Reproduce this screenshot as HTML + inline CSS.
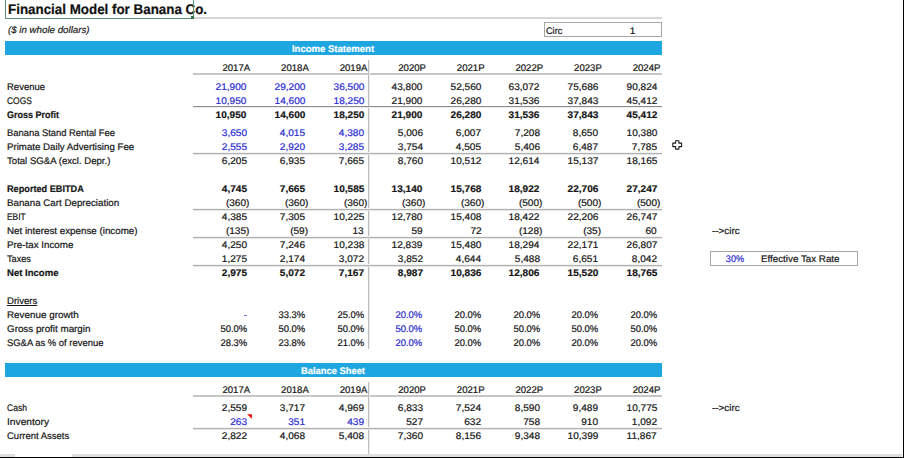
<!DOCTYPE html>
<html><head><meta charset="utf-8"><title>Financial Model for Banana Co.</title>
<style>
html,body{margin:0;padding:0;background:#fff;}
body{width:904px;height:458px;position:relative;overflow:hidden;font-family:"Liberation Sans", sans-serif;}
.t{position:absolute;white-space:pre;text-rendering:geometricPrecision;-webkit-text-stroke:0.2px currentColor;}
.b{-webkit-text-stroke:0.2px currentColor;}
.l{position:absolute;box-sizing:content-box;}
</style></head><body>
<div class="t b" style="top:1.90px;height:14px;line-height:14px;font-size:14px;font-weight:700;color:#111;left:7.50px;transform:scaleX(0.955);transform-origin:left center;">Financial Model for Banana Co.</div>
<div class="l" style="top:17px;left:193.00px;width:468.60px;height:2px;background:#d6d6d6;"></div>
<div class="l" style="top:-1px;left:5px;width:187px;height:19px;border:1px solid #5a9272;border-top:none"></div>
<div class="l" style="top:16px;left:190.8px;width:3px;height:3px;background:#2e7048"></div>
<div class="t" style="top:24.30px;height:14px;line-height:14px;font-size:9.6px;font-weight:400;color:#222;font-style:italic;left:7.70px;transform:scaleX(1.0125381097560977);transform-origin:left center;">($ in whole dollars)</div>
<div class="l" style="top:22px;left:544px;width:116px;height:13px;border:1px solid #a6a6a6"></div>
<div class="t" style="top:24.50px;height:14px;line-height:14px;font-size:9.6px;font-weight:400;color:#161616;left:546.30px;transform:scaleX(0.9529411764705882);transform-origin:left center;">Circ</div>
<div class="t" style="top:24.50px;height:14px;line-height:14px;font-size:9.6px;font-weight:400;color:#161616;right:268.60px;transform:scaleX(1.05);transform-origin:right center;">1</div>
<div class="l" style="top:41px;left:5px;width:656.6px;height:14px;background:#1da6df"></div>
<div class="t b" style="top:42.50px;height:14px;line-height:14px;font-size:9.6px;font-weight:700;color:#ffffff;left:183.30px;width:300px;text-align:center;transform:scaleX(0.9942592592592592);transform-origin:center center;">Income Statement</div>
<div class="t" style="top:61.80px;height:14px;line-height:14px;font-size:9.6px;font-weight:400;color:#161616;right:653.80px;">2017A</div>
<div class="t" style="top:61.80px;height:14px;line-height:14px;font-size:9.6px;font-weight:400;color:#161616;right:595.20px;">2018A</div>
<div class="t" style="top:61.80px;height:14px;line-height:14px;font-size:9.6px;font-weight:400;color:#161616;right:536.60px;">2019A</div>
<div class="t" style="top:61.80px;height:14px;line-height:14px;font-size:9.6px;font-weight:400;color:#161616;right:478.00px;">2020P</div>
<div class="t" style="top:61.80px;height:14px;line-height:14px;font-size:9.6px;font-weight:400;color:#161616;right:419.40px;">2021P</div>
<div class="t" style="top:61.80px;height:14px;line-height:14px;font-size:9.6px;font-weight:400;color:#161616;right:360.80px;">2022P</div>
<div class="t" style="top:61.80px;height:14px;line-height:14px;font-size:9.6px;font-weight:400;color:#161616;right:302.20px;">2023P</div>
<div class="t" style="top:61.80px;height:14px;line-height:14px;font-size:9.6px;font-weight:400;color:#161616;right:243.60px;">2024P</div>
<div class="l" style="top:73px;left:192.80px;width:468.80px;height:2px;background:#c6c6c6;"></div>
<div class="l" style="top:60px;left:368px;width:1px;height:289px;background:#bcbcbc;box-shadow:1px 0 0 #f0f0f0;"></div>
<div class="t" style="top:80.80px;height:14px;line-height:14px;font-size:9.6px;font-weight:400;color:#161616;left:7.20px;transform:scaleX(0.9895629833129832);transform-origin:left center;">Revenue</div>
<div class="t" style="top:80.80px;height:14px;line-height:14px;font-size:9.6px;font-weight:400;color:#2b2bd0;right:657.20px;transform:scaleX(1.05);transform-origin:right center;">21,900</div>
<div class="t" style="top:80.80px;height:14px;line-height:14px;font-size:9.6px;font-weight:400;color:#2b2bd0;right:598.60px;transform:scaleX(1.05);transform-origin:right center;">29,200</div>
<div class="t" style="top:80.80px;height:14px;line-height:14px;font-size:9.6px;font-weight:400;color:#2b2bd0;right:540.00px;transform:scaleX(1.05);transform-origin:right center;">36,500</div>
<div class="t" style="top:80.80px;height:14px;line-height:14px;font-size:9.6px;font-weight:400;color:#161616;right:481.40px;transform:scaleX(1.05);transform-origin:right center;">43,800</div>
<div class="t" style="top:80.80px;height:14px;line-height:14px;font-size:9.6px;font-weight:400;color:#161616;right:422.80px;transform:scaleX(1.05);transform-origin:right center;">52,560</div>
<div class="t" style="top:80.80px;height:14px;line-height:14px;font-size:9.6px;font-weight:400;color:#161616;right:364.20px;transform:scaleX(1.05);transform-origin:right center;">63,072</div>
<div class="t" style="top:80.80px;height:14px;line-height:14px;font-size:9.6px;font-weight:400;color:#161616;right:305.60px;transform:scaleX(1.05);transform-origin:right center;">75,686</div>
<div class="t" style="top:80.80px;height:14px;line-height:14px;font-size:9.6px;font-weight:400;color:#161616;right:247.00px;transform:scaleX(1.05);transform-origin:right center;">90,824</div>
<div class="t" style="top:94.80px;height:14px;line-height:14px;font-size:9.6px;font-weight:400;color:#161616;left:7.20px;transform:scaleX(0.8780209895052474);transform-origin:left center;">COGS</div>
<div class="t" style="top:94.80px;height:14px;line-height:14px;font-size:9.6px;font-weight:400;color:#2b2bd0;right:657.20px;transform:scaleX(1.05);transform-origin:right center;">10,950</div>
<div class="t" style="top:94.80px;height:14px;line-height:14px;font-size:9.6px;font-weight:400;color:#2b2bd0;right:598.60px;transform:scaleX(1.05);transform-origin:right center;">14,600</div>
<div class="t" style="top:94.80px;height:14px;line-height:14px;font-size:9.6px;font-weight:400;color:#2b2bd0;right:540.00px;transform:scaleX(1.05);transform-origin:right center;">18,250</div>
<div class="t" style="top:94.80px;height:14px;line-height:14px;font-size:9.6px;font-weight:400;color:#161616;right:481.40px;transform:scaleX(1.05);transform-origin:right center;">21,900</div>
<div class="t" style="top:94.80px;height:14px;line-height:14px;font-size:9.6px;font-weight:400;color:#161616;right:422.80px;transform:scaleX(1.05);transform-origin:right center;">26,280</div>
<div class="t" style="top:94.80px;height:14px;line-height:14px;font-size:9.6px;font-weight:400;color:#161616;right:364.20px;transform:scaleX(1.05);transform-origin:right center;">31,536</div>
<div class="t" style="top:94.80px;height:14px;line-height:14px;font-size:9.6px;font-weight:400;color:#161616;right:305.60px;transform:scaleX(1.05);transform-origin:right center;">37,843</div>
<div class="t" style="top:94.80px;height:14px;line-height:14px;font-size:9.6px;font-weight:400;color:#161616;right:247.00px;transform:scaleX(1.05);transform-origin:right center;">45,412</div>
<div class="l" style="top:106px;left:192.80px;width:468.80px;height:1px;background:#8c8c8c;box-shadow:0 1px 0 #ececec;"></div>
<div class="t b" style="top:108.80px;height:14px;line-height:14px;font-size:9.6px;font-weight:700;color:#161616;left:7.20px;transform:scaleX(0.9388503386795389);transform-origin:left center;">Gross Profit</div>
<div class="t b" style="top:108.80px;height:14px;line-height:14px;font-size:9.6px;font-weight:700;color:#161616;right:657.20px;transform:scaleX(1.05);transform-origin:right center;">10,950</div>
<div class="t b" style="top:108.80px;height:14px;line-height:14px;font-size:9.6px;font-weight:700;color:#161616;right:598.60px;transform:scaleX(1.05);transform-origin:right center;">14,600</div>
<div class="t b" style="top:108.80px;height:14px;line-height:14px;font-size:9.6px;font-weight:700;color:#161616;right:540.00px;transform:scaleX(1.05);transform-origin:right center;">18,250</div>
<div class="t b" style="top:108.80px;height:14px;line-height:14px;font-size:9.6px;font-weight:700;color:#161616;right:481.40px;transform:scaleX(1.05);transform-origin:right center;">21,900</div>
<div class="t b" style="top:108.80px;height:14px;line-height:14px;font-size:9.6px;font-weight:700;color:#161616;right:422.80px;transform:scaleX(1.05);transform-origin:right center;">26,280</div>
<div class="t b" style="top:108.80px;height:14px;line-height:14px;font-size:9.6px;font-weight:700;color:#161616;right:364.20px;transform:scaleX(1.05);transform-origin:right center;">31,536</div>
<div class="t b" style="top:108.80px;height:14px;line-height:14px;font-size:9.6px;font-weight:700;color:#161616;right:305.60px;transform:scaleX(1.05);transform-origin:right center;">37,843</div>
<div class="t b" style="top:108.80px;height:14px;line-height:14px;font-size:9.6px;font-weight:700;color:#161616;right:247.00px;transform:scaleX(1.05);transform-origin:right center;">45,412</div>
<div class="t" style="top:127.30px;height:14px;line-height:14px;font-size:9.6px;font-weight:400;color:#161616;left:7.20px;transform:scaleX(0.9778150478598517);transform-origin:left center;">Banana Stand Rental Fee</div>
<div class="t" style="top:127.30px;height:14px;line-height:14px;font-size:9.6px;font-weight:400;color:#2b2bd0;right:657.20px;transform:scaleX(1.05);transform-origin:right center;">3,650</div>
<div class="t" style="top:127.30px;height:14px;line-height:14px;font-size:9.6px;font-weight:400;color:#2b2bd0;right:598.60px;transform:scaleX(1.05);transform-origin:right center;">4,015</div>
<div class="t" style="top:127.30px;height:14px;line-height:14px;font-size:9.6px;font-weight:400;color:#2b2bd0;right:540.00px;transform:scaleX(1.05);transform-origin:right center;">4,380</div>
<div class="t" style="top:127.30px;height:14px;line-height:14px;font-size:9.6px;font-weight:400;color:#161616;right:481.40px;transform:scaleX(1.05);transform-origin:right center;">5,006</div>
<div class="t" style="top:127.30px;height:14px;line-height:14px;font-size:9.6px;font-weight:400;color:#161616;right:422.80px;transform:scaleX(1.05);transform-origin:right center;">6,007</div>
<div class="t" style="top:127.30px;height:14px;line-height:14px;font-size:9.6px;font-weight:400;color:#161616;right:364.20px;transform:scaleX(1.05);transform-origin:right center;">7,208</div>
<div class="t" style="top:127.30px;height:14px;line-height:14px;font-size:9.6px;font-weight:400;color:#161616;right:305.60px;transform:scaleX(1.05);transform-origin:right center;">8,650</div>
<div class="t" style="top:127.30px;height:14px;line-height:14px;font-size:9.6px;font-weight:400;color:#161616;right:247.00px;transform:scaleX(1.05);transform-origin:right center;">10,380</div>
<div class="t" style="top:141.30px;height:14px;line-height:14px;font-size:9.6px;font-weight:400;color:#161616;left:7.20px;transform:scaleX(1.010656542842742);transform-origin:left center;">Primate Daily Advertising Fee</div>
<div class="t" style="top:141.30px;height:14px;line-height:14px;font-size:9.6px;font-weight:400;color:#2b2bd0;right:657.20px;transform:scaleX(1.05);transform-origin:right center;">2,555</div>
<div class="t" style="top:141.30px;height:14px;line-height:14px;font-size:9.6px;font-weight:400;color:#2b2bd0;right:598.60px;transform:scaleX(1.05);transform-origin:right center;">2,920</div>
<div class="t" style="top:141.30px;height:14px;line-height:14px;font-size:9.6px;font-weight:400;color:#2b2bd0;right:540.00px;transform:scaleX(1.05);transform-origin:right center;">3,285</div>
<div class="t" style="top:141.30px;height:14px;line-height:14px;font-size:9.6px;font-weight:400;color:#161616;right:481.40px;transform:scaleX(1.05);transform-origin:right center;">3,754</div>
<div class="t" style="top:141.30px;height:14px;line-height:14px;font-size:9.6px;font-weight:400;color:#161616;right:422.80px;transform:scaleX(1.05);transform-origin:right center;">4,505</div>
<div class="t" style="top:141.30px;height:14px;line-height:14px;font-size:9.6px;font-weight:400;color:#161616;right:364.20px;transform:scaleX(1.05);transform-origin:right center;">5,406</div>
<div class="t" style="top:141.30px;height:14px;line-height:14px;font-size:9.6px;font-weight:400;color:#161616;right:305.60px;transform:scaleX(1.05);transform-origin:right center;">6,487</div>
<div class="t" style="top:141.30px;height:14px;line-height:14px;font-size:9.6px;font-weight:400;color:#161616;right:247.00px;transform:scaleX(1.05);transform-origin:right center;">7,785</div>
<div class="l" style="top:153px;left:192.80px;width:468.80px;height:1px;background:#b2b2b2;box-shadow:0 1px 0 #e6e6e6, 0 -1px 0 #f4f4f4;"></div>
<div class="t" style="top:155.40px;height:14px;line-height:14px;font-size:9.6px;font-weight:400;color:#161616;left:7.20px;transform:scaleX(0.9994405188046276);transform-origin:left center;">Total SG&amp;A (excl. Depr.)</div>
<div class="t" style="top:155.40px;height:14px;line-height:14px;font-size:9.6px;font-weight:400;color:#161616;right:657.20px;transform:scaleX(1.05);transform-origin:right center;">6,205</div>
<div class="t" style="top:155.40px;height:14px;line-height:14px;font-size:9.6px;font-weight:400;color:#161616;right:598.60px;transform:scaleX(1.05);transform-origin:right center;">6,935</div>
<div class="t" style="top:155.40px;height:14px;line-height:14px;font-size:9.6px;font-weight:400;color:#161616;right:540.00px;transform:scaleX(1.05);transform-origin:right center;">7,665</div>
<div class="t" style="top:155.40px;height:14px;line-height:14px;font-size:9.6px;font-weight:400;color:#161616;right:481.40px;transform:scaleX(1.05);transform-origin:right center;">8,760</div>
<div class="t" style="top:155.40px;height:14px;line-height:14px;font-size:9.6px;font-weight:400;color:#161616;right:422.80px;transform:scaleX(1.05);transform-origin:right center;">10,512</div>
<div class="t" style="top:155.40px;height:14px;line-height:14px;font-size:9.6px;font-weight:400;color:#161616;right:364.20px;transform:scaleX(1.05);transform-origin:right center;">12,614</div>
<div class="t" style="top:155.40px;height:14px;line-height:14px;font-size:9.6px;font-weight:400;color:#161616;right:305.60px;transform:scaleX(1.05);transform-origin:right center;">15,137</div>
<div class="t" style="top:155.40px;height:14px;line-height:14px;font-size:9.6px;font-weight:400;color:#161616;right:247.00px;transform:scaleX(1.05);transform-origin:right center;">18,165</div>
<div class="t b" style="top:183.40px;height:14px;line-height:14px;font-size:9.6px;font-weight:700;color:#161616;left:7.20px;transform:scaleX(0.9540895378690629);transform-origin:left center;">Reported EBITDA</div>
<div class="t b" style="top:183.40px;height:14px;line-height:14px;font-size:9.6px;font-weight:700;color:#161616;right:657.20px;transform:scaleX(1.05);transform-origin:right center;">4,745</div>
<div class="t b" style="top:183.40px;height:14px;line-height:14px;font-size:9.6px;font-weight:700;color:#161616;right:598.60px;transform:scaleX(1.05);transform-origin:right center;">7,665</div>
<div class="t b" style="top:183.40px;height:14px;line-height:14px;font-size:9.6px;font-weight:700;color:#161616;right:540.00px;transform:scaleX(1.05);transform-origin:right center;">10,585</div>
<div class="t b" style="top:183.40px;height:14px;line-height:14px;font-size:9.6px;font-weight:700;color:#161616;right:481.40px;transform:scaleX(1.05);transform-origin:right center;">13,140</div>
<div class="t b" style="top:183.40px;height:14px;line-height:14px;font-size:9.6px;font-weight:700;color:#161616;right:422.80px;transform:scaleX(1.05);transform-origin:right center;">15,768</div>
<div class="t b" style="top:183.40px;height:14px;line-height:14px;font-size:9.6px;font-weight:700;color:#161616;right:364.20px;transform:scaleX(1.05);transform-origin:right center;">18,922</div>
<div class="t b" style="top:183.40px;height:14px;line-height:14px;font-size:9.6px;font-weight:700;color:#161616;right:305.60px;transform:scaleX(1.05);transform-origin:right center;">22,706</div>
<div class="t b" style="top:183.40px;height:14px;line-height:14px;font-size:9.6px;font-weight:700;color:#161616;right:247.00px;transform:scaleX(1.05);transform-origin:right center;">27,247</div>
<div class="t" style="top:197.40px;height:14px;line-height:14px;font-size:9.6px;font-weight:400;color:#161616;left:7.20px;transform:scaleX(1.0158690137987012);transform-origin:left center;">Banana Cart Depreciation</div>
<div class="t" style="top:197.40px;height:14px;line-height:14px;font-size:9.6px;font-weight:400;color:#161616;right:654.20px;transform:scaleX(1.05);transform-origin:right center;">(360)</div>
<div class="t" style="top:197.40px;height:14px;line-height:14px;font-size:9.6px;font-weight:400;color:#161616;right:595.60px;transform:scaleX(1.05);transform-origin:right center;">(360)</div>
<div class="t" style="top:197.40px;height:14px;line-height:14px;font-size:9.6px;font-weight:400;color:#161616;right:537.00px;transform:scaleX(1.05);transform-origin:right center;">(360)</div>
<div class="t" style="top:197.40px;height:14px;line-height:14px;font-size:9.6px;font-weight:400;color:#161616;right:478.40px;transform:scaleX(1.05);transform-origin:right center;">(360)</div>
<div class="t" style="top:197.40px;height:14px;line-height:14px;font-size:9.6px;font-weight:400;color:#161616;right:419.80px;transform:scaleX(1.05);transform-origin:right center;">(360)</div>
<div class="t" style="top:197.40px;height:14px;line-height:14px;font-size:9.6px;font-weight:400;color:#161616;right:361.20px;transform:scaleX(1.05);transform-origin:right center;">(500)</div>
<div class="t" style="top:197.40px;height:14px;line-height:14px;font-size:9.6px;font-weight:400;color:#161616;right:302.60px;transform:scaleX(1.05);transform-origin:right center;">(500)</div>
<div class="t" style="top:197.40px;height:14px;line-height:14px;font-size:9.6px;font-weight:400;color:#161616;right:244.00px;transform:scaleX(1.05);transform-origin:right center;">(500)</div>
<div class="l" style="top:209px;left:192.80px;width:468.80px;height:1px;background:#b2b2b2;box-shadow:0 1px 0 #e6e6e6, 0 -1px 0 #f4f4f4;"></div>
<div class="t" style="top:211.40px;height:14px;line-height:14px;font-size:9.6px;font-weight:400;color:#161616;left:7.20px;transform:scaleX(0.871096108140226);transform-origin:left center;">EBIT</div>
<div class="t" style="top:211.40px;height:14px;line-height:14px;font-size:9.6px;font-weight:400;color:#161616;right:657.20px;transform:scaleX(1.05);transform-origin:right center;">4,385</div>
<div class="t" style="top:211.40px;height:14px;line-height:14px;font-size:9.6px;font-weight:400;color:#161616;right:598.60px;transform:scaleX(1.05);transform-origin:right center;">7,305</div>
<div class="t" style="top:211.40px;height:14px;line-height:14px;font-size:9.6px;font-weight:400;color:#161616;right:540.00px;transform:scaleX(1.05);transform-origin:right center;">10,225</div>
<div class="t" style="top:211.40px;height:14px;line-height:14px;font-size:9.6px;font-weight:400;color:#161616;right:481.40px;transform:scaleX(1.05);transform-origin:right center;">12,780</div>
<div class="t" style="top:211.40px;height:14px;line-height:14px;font-size:9.6px;font-weight:400;color:#161616;right:422.80px;transform:scaleX(1.05);transform-origin:right center;">15,408</div>
<div class="t" style="top:211.40px;height:14px;line-height:14px;font-size:9.6px;font-weight:400;color:#161616;right:364.20px;transform:scaleX(1.05);transform-origin:right center;">18,422</div>
<div class="t" style="top:211.40px;height:14px;line-height:14px;font-size:9.6px;font-weight:400;color:#161616;right:305.60px;transform:scaleX(1.05);transform-origin:right center;">22,206</div>
<div class="t" style="top:211.40px;height:14px;line-height:14px;font-size:9.6px;font-weight:400;color:#161616;right:247.00px;transform:scaleX(1.05);transform-origin:right center;">26,747</div>
<div class="t" style="top:225.40px;height:14px;line-height:14px;font-size:9.6px;font-weight:400;color:#161616;left:7.20px;transform:scaleX(1.0199855057441232);transform-origin:left center;">Net interest expense (income)</div>
<div class="t" style="top:225.40px;height:14px;line-height:14px;font-size:9.6px;font-weight:400;color:#161616;right:654.20px;transform:scaleX(1.05);transform-origin:right center;">(135)</div>
<div class="t" style="top:225.40px;height:14px;line-height:14px;font-size:9.6px;font-weight:400;color:#161616;right:595.60px;transform:scaleX(1.05);transform-origin:right center;">(59)</div>
<div class="t" style="top:225.40px;height:14px;line-height:14px;font-size:9.6px;font-weight:400;color:#161616;right:540.00px;transform:scaleX(1.05);transform-origin:right center;">13</div>
<div class="t" style="top:225.40px;height:14px;line-height:14px;font-size:9.6px;font-weight:400;color:#161616;right:481.40px;transform:scaleX(1.05);transform-origin:right center;">59</div>
<div class="t" style="top:225.40px;height:14px;line-height:14px;font-size:9.6px;font-weight:400;color:#161616;right:422.80px;transform:scaleX(1.05);transform-origin:right center;">72</div>
<div class="t" style="top:225.40px;height:14px;line-height:14px;font-size:9.6px;font-weight:400;color:#161616;right:361.20px;transform:scaleX(1.05);transform-origin:right center;">(128)</div>
<div class="t" style="top:225.40px;height:14px;line-height:14px;font-size:9.6px;font-weight:400;color:#161616;right:302.60px;transform:scaleX(1.05);transform-origin:right center;">(35)</div>
<div class="t" style="top:225.40px;height:14px;line-height:14px;font-size:9.6px;font-weight:400;color:#161616;right:247.00px;transform:scaleX(1.05);transform-origin:right center;">60</div>
<div class="l" style="top:237px;left:192.80px;width:468.80px;height:1px;background:#b2b2b2;box-shadow:0 1px 0 #e6e6e6, 0 -1px 0 #f4f4f4;"></div>
<div class="t" style="top:239.40px;height:14px;line-height:14px;font-size:9.6px;font-weight:400;color:#161616;left:7.20px;transform:scaleX(1.020371958770396);transform-origin:left center;">Pre-tax Income</div>
<div class="t" style="top:239.40px;height:14px;line-height:14px;font-size:9.6px;font-weight:400;color:#161616;right:657.20px;transform:scaleX(1.05);transform-origin:right center;">4,250</div>
<div class="t" style="top:239.40px;height:14px;line-height:14px;font-size:9.6px;font-weight:400;color:#161616;right:598.60px;transform:scaleX(1.05);transform-origin:right center;">7,246</div>
<div class="t" style="top:239.40px;height:14px;line-height:14px;font-size:9.6px;font-weight:400;color:#161616;right:540.00px;transform:scaleX(1.05);transform-origin:right center;">10,238</div>
<div class="t" style="top:239.40px;height:14px;line-height:14px;font-size:9.6px;font-weight:400;color:#161616;right:481.40px;transform:scaleX(1.05);transform-origin:right center;">12,839</div>
<div class="t" style="top:239.40px;height:14px;line-height:14px;font-size:9.6px;font-weight:400;color:#161616;right:422.80px;transform:scaleX(1.05);transform-origin:right center;">15,480</div>
<div class="t" style="top:239.40px;height:14px;line-height:14px;font-size:9.6px;font-weight:400;color:#161616;right:364.20px;transform:scaleX(1.05);transform-origin:right center;">18,294</div>
<div class="t" style="top:239.40px;height:14px;line-height:14px;font-size:9.6px;font-weight:400;color:#161616;right:305.60px;transform:scaleX(1.05);transform-origin:right center;">22,171</div>
<div class="t" style="top:239.40px;height:14px;line-height:14px;font-size:9.6px;font-weight:400;color:#161616;right:247.00px;transform:scaleX(1.05);transform-origin:right center;">26,807</div>
<div class="t" style="top:253.40px;height:14px;line-height:14px;font-size:9.6px;font-weight:400;color:#161616;left:7.20px;transform:scaleX(0.9551839464882943);transform-origin:left center;">Taxes</div>
<div class="t" style="top:253.40px;height:14px;line-height:14px;font-size:9.6px;font-weight:400;color:#161616;right:657.20px;transform:scaleX(1.05);transform-origin:right center;">1,275</div>
<div class="t" style="top:253.40px;height:14px;line-height:14px;font-size:9.6px;font-weight:400;color:#161616;right:598.60px;transform:scaleX(1.05);transform-origin:right center;">2,174</div>
<div class="t" style="top:253.40px;height:14px;line-height:14px;font-size:9.6px;font-weight:400;color:#161616;right:540.00px;transform:scaleX(1.05);transform-origin:right center;">3,072</div>
<div class="t" style="top:253.40px;height:14px;line-height:14px;font-size:9.6px;font-weight:400;color:#161616;right:481.40px;transform:scaleX(1.05);transform-origin:right center;">3,852</div>
<div class="t" style="top:253.40px;height:14px;line-height:14px;font-size:9.6px;font-weight:400;color:#161616;right:422.80px;transform:scaleX(1.05);transform-origin:right center;">4,644</div>
<div class="t" style="top:253.40px;height:14px;line-height:14px;font-size:9.6px;font-weight:400;color:#161616;right:364.20px;transform:scaleX(1.05);transform-origin:right center;">5,488</div>
<div class="t" style="top:253.40px;height:14px;line-height:14px;font-size:9.6px;font-weight:400;color:#161616;right:305.60px;transform:scaleX(1.05);transform-origin:right center;">6,651</div>
<div class="t" style="top:253.40px;height:14px;line-height:14px;font-size:9.6px;font-weight:400;color:#161616;right:247.00px;transform:scaleX(1.05);transform-origin:right center;">8,042</div>
<div class="l" style="top:265px;left:192.80px;width:468.80px;height:1px;background:#b2b2b2;box-shadow:0 1px 0 #e6e6e6, 0 -1px 0 #f4f4f4;"></div>
<div class="t b" style="top:267.40px;height:14px;line-height:14px;font-size:9.6px;font-weight:700;color:#161616;left:7.20px;transform:scaleX(0.9950378024417312);transform-origin:left center;">Net Income</div>
<div class="t b" style="top:267.40px;height:14px;line-height:14px;font-size:9.6px;font-weight:700;color:#161616;right:657.20px;transform:scaleX(1.05);transform-origin:right center;">2,975</div>
<div class="t b" style="top:267.40px;height:14px;line-height:14px;font-size:9.6px;font-weight:700;color:#161616;right:598.60px;transform:scaleX(1.05);transform-origin:right center;">5,072</div>
<div class="t b" style="top:267.40px;height:14px;line-height:14px;font-size:9.6px;font-weight:700;color:#161616;right:540.00px;transform:scaleX(1.05);transform-origin:right center;">7,167</div>
<div class="t b" style="top:267.40px;height:14px;line-height:14px;font-size:9.6px;font-weight:700;color:#161616;right:481.40px;transform:scaleX(1.05);transform-origin:right center;">8,987</div>
<div class="t b" style="top:267.40px;height:14px;line-height:14px;font-size:9.6px;font-weight:700;color:#161616;right:422.80px;transform:scaleX(1.05);transform-origin:right center;">10,836</div>
<div class="t b" style="top:267.40px;height:14px;line-height:14px;font-size:9.6px;font-weight:700;color:#161616;right:364.20px;transform:scaleX(1.05);transform-origin:right center;">12,806</div>
<div class="t b" style="top:267.40px;height:14px;line-height:14px;font-size:9.6px;font-weight:700;color:#161616;right:305.60px;transform:scaleX(1.05);transform-origin:right center;">15,520</div>
<div class="t b" style="top:267.40px;height:14px;line-height:14px;font-size:9.6px;font-weight:700;color:#161616;right:247.00px;transform:scaleX(1.05);transform-origin:right center;">18,765</div>
<div class="t" style="top:295.40px;height:14px;line-height:14px;font-size:9.6px;font-weight:400;color:#161616;left:7.20px;transform:scaleX(0.998142021601062);transform-origin:left center;text-decoration:underline;">Drivers</div>
<div class="t" style="top:309.40px;height:14px;line-height:14px;font-size:9.6px;font-weight:400;color:#161616;left:7.20px;transform:scaleX(1.0280116581844005);transform-origin:left center;">Revenue growth</div>
<div class="t" style="top:309.40px;height:14px;line-height:14px;font-size:9.6px;font-weight:400;color:#161616;right:598.60px;transform:scaleX(0.985);transform-origin:right center;">33.3%</div>
<div class="t" style="top:309.40px;height:14px;line-height:14px;font-size:9.6px;font-weight:400;color:#161616;right:540.00px;transform:scaleX(0.985);transform-origin:right center;">25.0%</div>
<div class="t" style="top:309.40px;height:14px;line-height:14px;font-size:9.6px;font-weight:400;color:#2b2bd0;right:481.40px;transform:scaleX(0.985);transform-origin:right center;">20.0%</div>
<div class="t" style="top:309.40px;height:14px;line-height:14px;font-size:9.6px;font-weight:400;color:#161616;right:422.80px;transform:scaleX(0.985);transform-origin:right center;">20.0%</div>
<div class="t" style="top:309.40px;height:14px;line-height:14px;font-size:9.6px;font-weight:400;color:#161616;right:364.20px;transform:scaleX(0.985);transform-origin:right center;">20.0%</div>
<div class="t" style="top:309.40px;height:14px;line-height:14px;font-size:9.6px;font-weight:400;color:#161616;right:305.60px;transform:scaleX(0.985);transform-origin:right center;">20.0%</div>
<div class="t" style="top:309.40px;height:14px;line-height:14px;font-size:9.6px;font-weight:400;color:#161616;right:247.00px;transform:scaleX(0.985);transform-origin:right center;">20.0%</div>
<div class="l" style="top:315px;left:244px;width:3px;height:1px;background:#7070dc"></div>
<div class="t" style="top:323.40px;height:14px;line-height:14px;font-size:9.6px;font-weight:400;color:#161616;left:7.20px;transform:scaleX(1.0232060301151715);transform-origin:left center;">Gross profit margin</div>
<div class="t" style="top:323.40px;height:14px;line-height:14px;font-size:9.6px;font-weight:400;color:#161616;right:657.20px;transform:scaleX(0.985);transform-origin:right center;">50.0%</div>
<div class="t" style="top:323.40px;height:14px;line-height:14px;font-size:9.6px;font-weight:400;color:#161616;right:598.60px;transform:scaleX(0.985);transform-origin:right center;">50.0%</div>
<div class="t" style="top:323.40px;height:14px;line-height:14px;font-size:9.6px;font-weight:400;color:#161616;right:540.00px;transform:scaleX(0.985);transform-origin:right center;">50.0%</div>
<div class="t" style="top:323.40px;height:14px;line-height:14px;font-size:9.6px;font-weight:400;color:#2b2bd0;right:481.40px;transform:scaleX(0.985);transform-origin:right center;">50.0%</div>
<div class="t" style="top:323.40px;height:14px;line-height:14px;font-size:9.6px;font-weight:400;color:#161616;right:422.80px;transform:scaleX(0.985);transform-origin:right center;">50.0%</div>
<div class="t" style="top:323.40px;height:14px;line-height:14px;font-size:9.6px;font-weight:400;color:#161616;right:364.20px;transform:scaleX(0.985);transform-origin:right center;">50.0%</div>
<div class="t" style="top:323.40px;height:14px;line-height:14px;font-size:9.6px;font-weight:400;color:#161616;right:305.60px;transform:scaleX(0.985);transform-origin:right center;">50.0%</div>
<div class="t" style="top:323.40px;height:14px;line-height:14px;font-size:9.6px;font-weight:400;color:#161616;right:247.00px;transform:scaleX(0.985);transform-origin:right center;">50.0%</div>
<div class="t" style="top:337.40px;height:14px;line-height:14px;font-size:9.6px;font-weight:400;color:#161616;left:7.20px;transform:scaleX(0.9826254006337708);transform-origin:left center;">SG&amp;A as % of revenue</div>
<div class="t" style="top:337.40px;height:14px;line-height:14px;font-size:9.6px;font-weight:400;color:#161616;right:657.20px;transform:scaleX(0.985);transform-origin:right center;">28.3%</div>
<div class="t" style="top:337.40px;height:14px;line-height:14px;font-size:9.6px;font-weight:400;color:#161616;right:598.60px;transform:scaleX(0.985);transform-origin:right center;">23.8%</div>
<div class="t" style="top:337.40px;height:14px;line-height:14px;font-size:9.6px;font-weight:400;color:#161616;right:540.00px;transform:scaleX(0.985);transform-origin:right center;">21.0%</div>
<div class="t" style="top:337.40px;height:14px;line-height:14px;font-size:9.6px;font-weight:400;color:#2b2bd0;right:481.40px;transform:scaleX(0.985);transform-origin:right center;">20.0%</div>
<div class="t" style="top:337.40px;height:14px;line-height:14px;font-size:9.6px;font-weight:400;color:#161616;right:422.80px;transform:scaleX(0.985);transform-origin:right center;">20.0%</div>
<div class="t" style="top:337.40px;height:14px;line-height:14px;font-size:9.6px;font-weight:400;color:#161616;right:364.20px;transform:scaleX(0.985);transform-origin:right center;">20.0%</div>
<div class="t" style="top:337.40px;height:14px;line-height:14px;font-size:9.6px;font-weight:400;color:#161616;right:305.60px;transform:scaleX(0.985);transform-origin:right center;">20.0%</div>
<div class="t" style="top:337.40px;height:14px;line-height:14px;font-size:9.6px;font-weight:400;color:#161616;right:247.00px;transform:scaleX(0.985);transform-origin:right center;">20.0%</div>
<div class="t" style="top:225.40px;height:14px;line-height:14px;font-size:9.6px;font-weight:400;color:#161616;left:712.20px;transform:scaleX(1.0307834757834755);transform-origin:left center;">--&gt;circ</div>
<div class="l" style="top:251px;left:710px;width:146px;height:13px;border:1px solid #a6a6a6"></div>
<div class="t" style="top:253.40px;height:14px;line-height:14px;font-size:9.6px;font-weight:400;color:#2b2bd0;left:585.30px;width:300px;text-align:center;transform:scaleX(0.95);transform-origin:center center;">30%</div>
<div class="t" style="top:253.40px;height:14px;line-height:14px;font-size:9.6px;font-weight:400;color:#161616;left:760.80px;transform:scaleX(1.0200953702098146);transform-origin:left center;">Effective Tax Rate</div>
<div class="l" style="top:363px;left:5px;width:656.6px;height:14px;background:#1da6df"></div>
<div class="t b" style="top:364.50px;height:14px;line-height:14px;font-size:9.6px;font-weight:700;color:#ffffff;left:183.30px;width:300px;text-align:center;transform:scaleX(0.9742133594323464);transform-origin:center center;">Balance Sheet</div>
<div class="t" style="top:383.70px;height:14px;line-height:14px;font-size:9.6px;font-weight:400;color:#161616;right:653.80px;">2017A</div>
<div class="t" style="top:383.70px;height:14px;line-height:14px;font-size:9.6px;font-weight:400;color:#161616;right:595.20px;">2018A</div>
<div class="t" style="top:383.70px;height:14px;line-height:14px;font-size:9.6px;font-weight:400;color:#161616;right:536.60px;">2019A</div>
<div class="t" style="top:383.70px;height:14px;line-height:14px;font-size:9.6px;font-weight:400;color:#161616;right:478.00px;">2020P</div>
<div class="t" style="top:383.70px;height:14px;line-height:14px;font-size:9.6px;font-weight:400;color:#161616;right:419.40px;">2021P</div>
<div class="t" style="top:383.70px;height:14px;line-height:14px;font-size:9.6px;font-weight:400;color:#161616;right:360.80px;">2022P</div>
<div class="t" style="top:383.70px;height:14px;line-height:14px;font-size:9.6px;font-weight:400;color:#161616;right:302.20px;">2023P</div>
<div class="t" style="top:383.70px;height:14px;line-height:14px;font-size:9.6px;font-weight:400;color:#161616;right:243.60px;">2024P</div>
<div class="l" style="top:395px;left:192.80px;width:468.80px;height:2px;background:#c6c6c6;"></div>
<div class="l" style="top:382px;left:368px;width:1px;height:72px;background:#bcbcbc;box-shadow:1px 0 0 #f0f0f0;"></div>
<div class="t" style="top:402.10px;height:14px;line-height:14px;font-size:9.6px;font-weight:400;color:#161616;left:7.20px;transform:scaleX(0.8880778032036613);transform-origin:left center;">Cash</div>
<div class="t" style="top:402.10px;height:14px;line-height:14px;font-size:9.6px;font-weight:400;color:#161616;right:657.20px;transform:scaleX(1.05);transform-origin:right center;">2,559</div>
<div class="t" style="top:402.10px;height:14px;line-height:14px;font-size:9.6px;font-weight:400;color:#161616;right:598.60px;transform:scaleX(1.05);transform-origin:right center;">3,717</div>
<div class="t" style="top:402.10px;height:14px;line-height:14px;font-size:9.6px;font-weight:400;color:#161616;right:540.00px;transform:scaleX(1.05);transform-origin:right center;">4,969</div>
<div class="t" style="top:402.10px;height:14px;line-height:14px;font-size:9.6px;font-weight:400;color:#161616;right:481.40px;transform:scaleX(1.05);transform-origin:right center;">6,833</div>
<div class="t" style="top:402.10px;height:14px;line-height:14px;font-size:9.6px;font-weight:400;color:#161616;right:422.80px;transform:scaleX(1.05);transform-origin:right center;">7,524</div>
<div class="t" style="top:402.10px;height:14px;line-height:14px;font-size:9.6px;font-weight:400;color:#161616;right:364.20px;transform:scaleX(1.05);transform-origin:right center;">8,590</div>
<div class="t" style="top:402.10px;height:14px;line-height:14px;font-size:9.6px;font-weight:400;color:#161616;right:305.60px;transform:scaleX(1.05);transform-origin:right center;">9,489</div>
<div class="t" style="top:402.10px;height:14px;line-height:14px;font-size:9.6px;font-weight:400;color:#161616;right:247.00px;transform:scaleX(1.05);transform-origin:right center;">10,775</div>
<div class="t" style="top:402.10px;height:14px;line-height:14px;font-size:9.6px;font-weight:400;color:#161616;left:712.20px;transform:scaleX(1.0307834757834755);transform-origin:left center;">--&gt;circ</div>
<div class="t" style="top:416.00px;height:14px;line-height:14px;font-size:9.6px;font-weight:400;color:#161616;left:7.20px;transform:scaleX(1.0660563109756094);transform-origin:left center;">Inventory</div>
<div class="t" style="top:416.00px;height:14px;line-height:14px;font-size:9.6px;font-weight:400;color:#2b2bd0;right:657.20px;transform:scaleX(1.05);transform-origin:right center;">263</div>
<div class="t" style="top:416.00px;height:14px;line-height:14px;font-size:9.6px;font-weight:400;color:#2b2bd0;right:598.60px;transform:scaleX(1.05);transform-origin:right center;">351</div>
<div class="t" style="top:416.00px;height:14px;line-height:14px;font-size:9.6px;font-weight:400;color:#2b2bd0;right:540.00px;transform:scaleX(1.05);transform-origin:right center;">439</div>
<div class="t" style="top:416.00px;height:14px;line-height:14px;font-size:9.6px;font-weight:400;color:#161616;right:481.40px;transform:scaleX(1.05);transform-origin:right center;">527</div>
<div class="t" style="top:416.00px;height:14px;line-height:14px;font-size:9.6px;font-weight:400;color:#161616;right:422.80px;transform:scaleX(1.05);transform-origin:right center;">632</div>
<div class="t" style="top:416.00px;height:14px;line-height:14px;font-size:9.6px;font-weight:400;color:#161616;right:364.20px;transform:scaleX(1.05);transform-origin:right center;">758</div>
<div class="t" style="top:416.00px;height:14px;line-height:14px;font-size:9.6px;font-weight:400;color:#161616;right:305.60px;transform:scaleX(1.05);transform-origin:right center;">910</div>
<div class="t" style="top:416.00px;height:14px;line-height:14px;font-size:9.6px;font-weight:400;color:#161616;right:247.00px;transform:scaleX(1.05);transform-origin:right center;">1,092</div>
<div class="l" style="top:428px;left:192.80px;width:468.80px;height:1px;background:#b2b2b2;box-shadow:0 1px 0 #e6e6e6, 0 -1px 0 #f4f4f4;"></div>
<svg class="l" style="top:413.8px;left:246.6px" width="5" height="5"><path d="M0.2 0.2 L4.8 0.2 L4.8 4.8 Z" fill="#f00000"/></svg>
<div class="t" style="top:430.10px;height:14px;line-height:14px;font-size:9.6px;font-weight:400;color:#161616;left:7.20px;transform:scaleX(0.9893954918032787);transform-origin:left center;">Current Assets</div>
<div class="t" style="top:430.10px;height:14px;line-height:14px;font-size:9.6px;font-weight:400;color:#161616;right:657.20px;transform:scaleX(1.05);transform-origin:right center;">2,822</div>
<div class="t" style="top:430.10px;height:14px;line-height:14px;font-size:9.6px;font-weight:400;color:#161616;right:598.60px;transform:scaleX(1.05);transform-origin:right center;">4,068</div>
<div class="t" style="top:430.10px;height:14px;line-height:14px;font-size:9.6px;font-weight:400;color:#161616;right:540.00px;transform:scaleX(1.05);transform-origin:right center;">5,408</div>
<div class="t" style="top:430.10px;height:14px;line-height:14px;font-size:9.6px;font-weight:400;color:#161616;right:481.40px;transform:scaleX(1.05);transform-origin:right center;">7,360</div>
<div class="t" style="top:430.10px;height:14px;line-height:14px;font-size:9.6px;font-weight:400;color:#161616;right:422.80px;transform:scaleX(1.05);transform-origin:right center;">8,156</div>
<div class="t" style="top:430.10px;height:14px;line-height:14px;font-size:9.6px;font-weight:400;color:#161616;right:364.20px;transform:scaleX(1.05);transform-origin:right center;">9,348</div>
<div class="t" style="top:430.10px;height:14px;line-height:14px;font-size:9.6px;font-weight:400;color:#161616;right:305.60px;transform:scaleX(1.05);transform-origin:right center;">10,399</div>
<div class="t" style="top:430.10px;height:14px;line-height:14px;font-size:9.6px;font-weight:400;color:#161616;right:247.00px;transform:scaleX(1.05);transform-origin:right center;">11,867</div>
<svg class="l" style="top:139.5px;left:672px" width="11" height="11" viewBox="0 0 11 11"><path d="M3.6 0.7 H6.9 V3.1 H9.6 V6.6 H6.9 V9.1 H3.6 V6.6 H0.8 V3.1 H3.6 Z" fill="#fff" stroke="#1a1a1a" stroke-width="1.05" stroke-linejoin="round"/></svg>
<div class="l" style="top:454px;left:0px;width:15px;height:3px;background:#dfdfdf"></div>
<div class="l" style="top:454px;left:72px;width:830px;height:3px;background:#dfdfdf"></div>
<div class="l" style="top:456.6px;left:0px;width:904px;height:0.4px;background:#888"></div>
<div class="l" style="top:457px;left:0px;width:904px;height:1px;background:#000"></div>
<div class="l" style="top:0px;left:902.6px;width:0.4px;height:458px;background:#888"></div>
<div class="l" style="top:0px;left:903px;width:1px;height:458px;background:#000"></div>
</body></html>
